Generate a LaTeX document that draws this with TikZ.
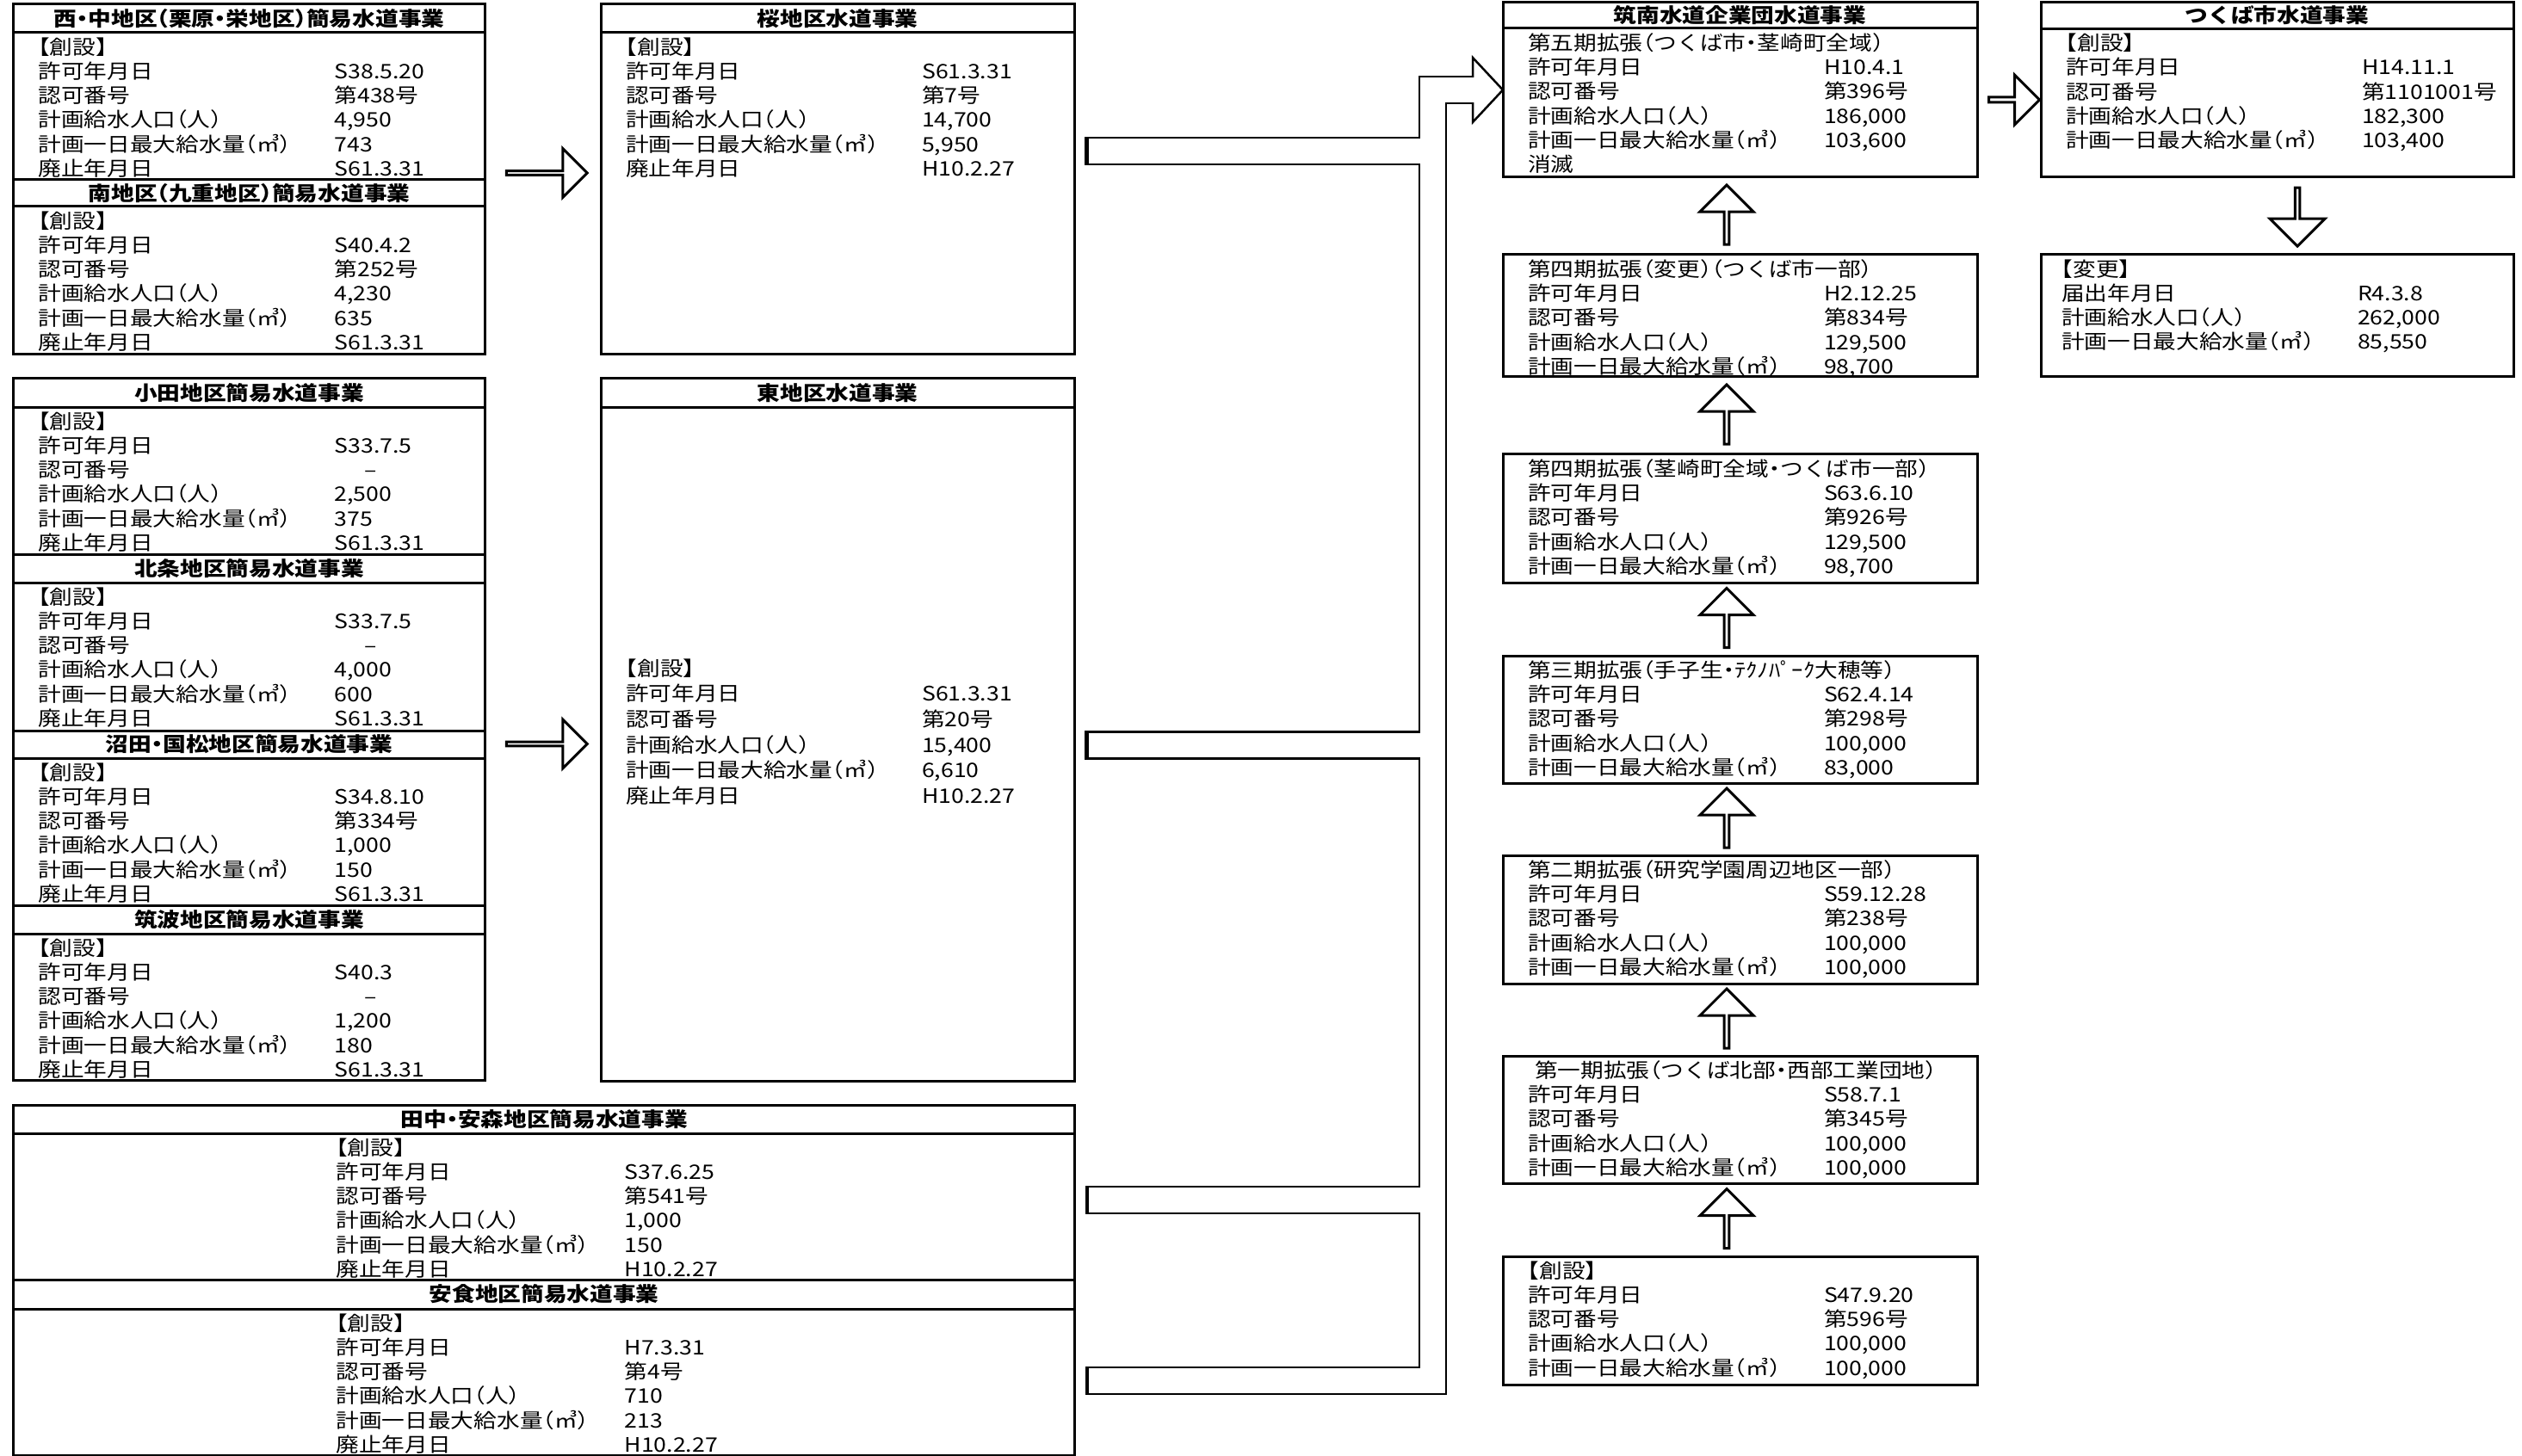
\documentclass[tikz,border=0pt]{standalone}
\usepackage{fontspec}
\setmainfont{Noto Sans CJK JP}[FakeStretch=1.15, RawFeature=+halt]
\usetikzlibrary{calc, positioning, shapes.arrows}

\newcommand{\basefont}{\fontsize{6.6pt}{8.04pt}\selectfont}
\newlength{\colw}
\setlength{\colw}{3.44cm}
\newcommand{\rw}[2]{\makebox[\colw][l]{#1}#2\par}
\newcommand{\card}[4][0.29cm]{\parbox[t][#2][t]{#3}{\leftskip=#1\relax\vspace*{0.055cm}#4}}

\begin{document}
\begin{tikzpicture}[font=\basefont]

\tikzstyle{band} = [rectangle, draw=black, line width=.3mm, outer sep=0pt, inner sep=0pt, minimum height=.33cm, font=\basefont\bfseries]
\tikzstyle{body} = [rectangle, draw=black, line width=.3mm, outer sep=0pt, inner sep=0pt]
\tikzstyle{blk} = [single arrow, draw=black, line width=.3mm, fill=white, inner sep=0pt, outer sep=0pt, single arrow tip angle=90]
\tikzstyle{upblk} = [blk, rotate=90, minimum height=.69cm, minimum width=.62cm, single arrow head extend=.15cm]

\useasboundingbox (0,0) rectangle (29.30,-16.92);

\node (nishi) [band, minimum width=5.48cm, anchor=north west] at (0.156,-0.05) {西・中地区（栗原・栄地区）簡易水道事業};
\node (nishiB) [body, below=0pt of nishi] {\card{1.71cm}{5.48cm}{【創設】\par\rw{許可年月日}{S38.5.20}\rw{認可番号}{第438号}\rw{計画給水人口（人）}{4,950}\rw{計画一日最大給水量（㎥）}{743}\rw{廃止年月日}{S61.3.31}}};
\node (minami) [band, minimum width=5.48cm, minimum height=.31cm, below=0pt of nishiB] {南地区（九重地区）簡易水道事業};
\node (minamiB) [body, below=0pt of minami] {\card{1.72cm}{5.48cm}{【創設】\par\rw{許可年月日}{S40.4.2}\rw{認可番号}{第252号}\rw{計画給水人口（人）}{4,230}\rw{計画一日最大給水量（㎥）}{635}\rw{廃止年月日}{S61.3.31}}};

\node (oda) [band, minimum width=5.48cm, below=.28cm of minamiB] {小田地区簡易水道事業};
\node (odaB) [body, below=0pt of oda] {\card{1.71cm}{5.48cm}{【創設】\par\rw{許可年月日}{S33.7.5}\rw{認可番号}{\hspace{0.35cm}–}\rw{計画給水人口（人）}{2,500}\rw{計画一日最大給水量（㎥）}{375}\rw{廃止年月日}{S61.3.31}}};
\node (hojo) [band, minimum width=5.48cm, below=0pt of odaB] {北条地区簡易水道事業};
\node (hojoB) [body, below=0pt of hojo] {\card{1.72cm}{5.48cm}{【創設】\par\rw{許可年月日}{S33.7.5}\rw{認可番号}{\hspace{0.35cm}–}\rw{計画給水人口（人）}{4,000}\rw{計画一日最大給水量（㎥）}{600}\rw{廃止年月日}{S61.3.31}}};
\node (numata) [band, minimum width=5.48cm, minimum height=.32cm, below=0pt of hojoB] {沼田・国松地区簡易水道事業};
\node (numataB) [body, below=0pt of numata] {\card{1.71cm}{5.48cm}{【創設】\par\rw{許可年月日}{S34.8.10}\rw{認可番号}{第334号}\rw{計画給水人口（人）}{1,000}\rw{計画一日最大給水量（㎥）}{150}\rw{廃止年月日}{S61.3.31}}};
\node (tsukubaD) [band, minimum width=5.48cm, below=0pt of numataB] {筑波地区簡易水道事業};
\node (tsukubaDB) [body, below=0pt of tsukubaD] {\card{1.70cm}{5.48cm}{【創設】\par\rw{許可年月日}{S40.3}\rw{認可番号}{\hspace{0.35cm}–}\rw{計画給水人口（人）}{1,200}\rw{計画一日最大給水量（㎥）}{180}\rw{廃止年月日}{S61.3.31}}};

\node (tanaka) [band, minimum width=12.33cm, below=.29cm of tsukubaDB.south west, anchor=north west] {田中・安森地区簡易水道事業};
\node (tanakaB) [body, below=0pt of tanaka] {\card[3.75cm]{1.70cm}{12.33cm}{\setlength{\colw}{3.35cm}【創設】\par\rw{許可年月日}{S37.6.25}\rw{認可番号}{第541号}\rw{計画給水人口（人）}{1,000}\rw{計画一日最大給水量（㎥）}{150}\rw{廃止年月日}{H10.2.27}}};
\node (anjiki) [band, minimum width=12.33cm, minimum height=.34cm, below=0pt of tanakaB] {安食地区簡易水道事業};
\node (anjikiB) [body, below=0pt of anjiki] {\card[3.75cm]{1.70cm}{12.33cm}{\setlength{\colw}{3.35cm}【創設】\par\rw{許可年月日}{H7.3.31}\rw{認可番号}{第4号}\rw{計画給水人口（人）}{710}\rw{計画一日最大給水量（㎥）}{213}\rw{廃止年月日}{H10.2.27}}};

\node (sakura) [band, minimum width=5.50cm, right=1.345cm of nishi] {桜地区水道事業};
\node (sakuraB) [body, below=0pt of sakura] {\card{3.74cm}{5.50cm}{【創設】\par\rw{許可年月日}{S61.3.31}\rw{認可番号}{第7号}\rw{計画給水人口（人）}{14,700}\rw{計画一日最大給水量（㎥）}{5,950}\rw{廃止年月日}{H10.2.27}}};
\node (higashi) [band, minimum width=5.50cm, right=1.345cm of oda] {東地区水道事業};
\node (higashiB) [body, below=0pt of higashi] {\card{7.83cm}{5.50cm}{\vspace*{2.87cm}\setlength{\baselineskip}{0.297cm}【創設】\par\rw{許可年月日}{S61.3.31}\rw{認可番号}{第20号}\rw{計画給水人口（人）}{15,400}\rw{計画一日最大給水量（㎥）}{6,610}\rw{廃止年月日}{H10.2.27}}};

\node (chikunan) [band, minimum width=5.51cm, minimum height=.30cm, anchor=north west] at (17.46,-0.03) {筑南水道企業団水道事業};
\node (chikunanB) [body, below=0pt of chikunan] {\card{1.73cm}{5.51cm}{第五期拡張（つくば市・茎崎町全域）\par\rw{許可年月日}{H10.4.1}\rw{認可番号}{第396号}\rw{計画給水人口（人）}{186,000}\rw{計画一日最大給水量（㎥）}{103,600}消滅\par}};
\node (ext4b) [body, below=.90cm of chikunanB] {\card{1.42cm}{5.51cm}{第四期拡張（変更）（つくば市一部）\par\rw{許可年月日}{H2.12.25}\rw{認可番号}{第834号}\rw{計画給水人口（人）}{129,500}\rw{計画一日最大給水量（㎥）}{98,700}}};
\node (ext4) [body, below=.90cm of ext4b] {\card{1.49cm}{5.51cm}{第四期拡張（茎崎町全域・つくば市一部）\par\rw{許可年月日}{S63.6.10}\rw{認可番号}{第926号}\rw{計画給水人口（人）}{129,500}\rw{計画一日最大給水量（㎥）}{98,700}}};
\node (ext3) [body, below=.85cm of ext4] {\card{1.48cm}{5.51cm}{第三期拡張（手子生・ﾃｸﾉﾊﾟｰｸ大穂等）\par\rw{許可年月日}{S62.4.14}\rw{認可番号}{第298号}\rw{計画給水人口（人）}{100,000}\rw{計画一日最大給水量（㎥）}{83,000}}};
\node (ext2) [body, below=.84cm of ext3] {\card{1.49cm}{5.51cm}{第二期拡張（研究学園周辺地区一部）\par\rw{許可年月日}{S59.12.28}\rw{認可番号}{第238号}\rw{計画給水人口（人）}{100,000}\rw{計画一日最大給水量（㎥）}{100,000}}};
\node (ext1) [body, below=.84cm of ext2] {\card{1.48cm}{5.51cm}{\hspace*{0.08cm}第一期拡張（つくば北部・西部工業団地）\par\rw{許可年月日}{S58.7.1}\rw{認可番号}{第345号}\rw{計画給水人口（人）}{100,000}\rw{計画一日最大給水量（㎥）}{100,000}}};
\node (found) [body, below=.85cm of ext1] {\card{1.49cm}{5.51cm}{【創設】\par\rw{許可年月日}{S47.9.20}\rw{認可番号}{第596号}\rw{計画給水人口（人）}{100,000}\rw{計画一日最大給水量（㎥）}{100,000}}};

\node (city) [band, minimum width=5.49cm, minimum height=.31cm, right=.74cm of chikunan] {つくば市水道事業};
\node (cityB) [body, below=0pt of city] {\card{1.72cm}{5.49cm}{【創設】\par\rw{許可年月日}{H14.11.1}\rw{認可番号}{第1101001号}\rw{計画給水人口（人）}{182,300}\rw{計画一日最大給水量（㎥）}{103,400}}};
\node (henko) [body, below=.905cm of cityB] {\card[0.24cm]{1.42cm}{5.49cm}{【変更】\par\rw{届出年月日}{R4.3.8}\rw{計画給水人口（人）}{262,000}\rw{計画一日最大給水量（㎥）}{85,550}}};

\node (toSakura) [blk, minimum height=.94cm, minimum width=.57cm, single arrow head extend=.16cm] at ($(sakuraB.west)+(-0.64,0.24)$) {};
\node (toHigashi) [blk, minimum height=.94cm, minimum width=.57cm, single arrow head extend=.16cm] at ($(higashiB.west)+(-0.64,0)$) {};
\node (toCity) [blk, minimum height=.59cm, minimum width=.58cm, single arrow head extend=.13cm] at ($(chikunanB.east)!.5!(cityB.west)+(0.045,0.035)$) {};
\node (toHenko) [blk, rotate=-90, minimum height=.68cm, minimum width=.64cm, single arrow head extend=.16cm] at ($(cityB.south)!.5!(henko.north)+(0.235,0)$) {};

\node (up1) [upblk] at ($(found.north)!.5!(ext1.south)+(-0.155,0)$) {};
\node (up2) [upblk] at ($(ext1.north)!.5!(ext2.south)+(-0.155,0)$) {};
\node (up3) [upblk] at ($(ext2.north)!.5!(ext3.south)+(-0.155,0)$) {};
\node (up4) [upblk] at ($(ext3.north)!.5!(ext4.south)+(-0.155,0)$) {};
\node (up5) [upblk] at ($(ext4.north)!.5!(ext4b.south)+(-0.155,0)$) {};
\node (up6) [upblk] at ($(ext4b.north)!.5!(chikunanB.south)+(-0.155,0)$) {};

\coordinate (tip) at ($(chikunan.north west)!.5!(chikunanB.south west)$);
\coordinate (bend) at ($(tip)+(-0.815,0)$);
\coordinate (pSakura) at ($(sakura.north east)+(0.12,-1.705)$);
\coordinate (pHigashi) at ($(higashi.north east)+(0.12,-4.26)$);
\coordinate (pTanaka) at ($(tanaka.north east)+(0.12,-1.105)$);
\coordinate (pAnjiki) at ($(anjiki.north east)+(0.12,-1.175)$);

\draw[line width=.335cm] (pSakura) -| (bend) -- ($(tip)+(-0.35,0)$) (pHigashi) -| (bend) (pTanaka) -| (bend) (pAnjiki) -| (bend);
\draw[line width=.25mm, fill=white] ($(tip)+(-0.35,0.375)$) -- (tip) -- ($(tip)+(-0.35,-0.375)$) -- cycle;
\draw[white, line width=.285cm] ($(pSakura)+(0.045,0)$) -| (bend) -- ($(tip)+(-0.33,0)$) ($(pHigashi)+(0.045,0)$) -| (bend) ($(pTanaka)+(0.045,0)$) -| (bend) ($(pAnjiki)+(0.045,0)$) -| (bend);

\end{tikzpicture}
\end{document}
